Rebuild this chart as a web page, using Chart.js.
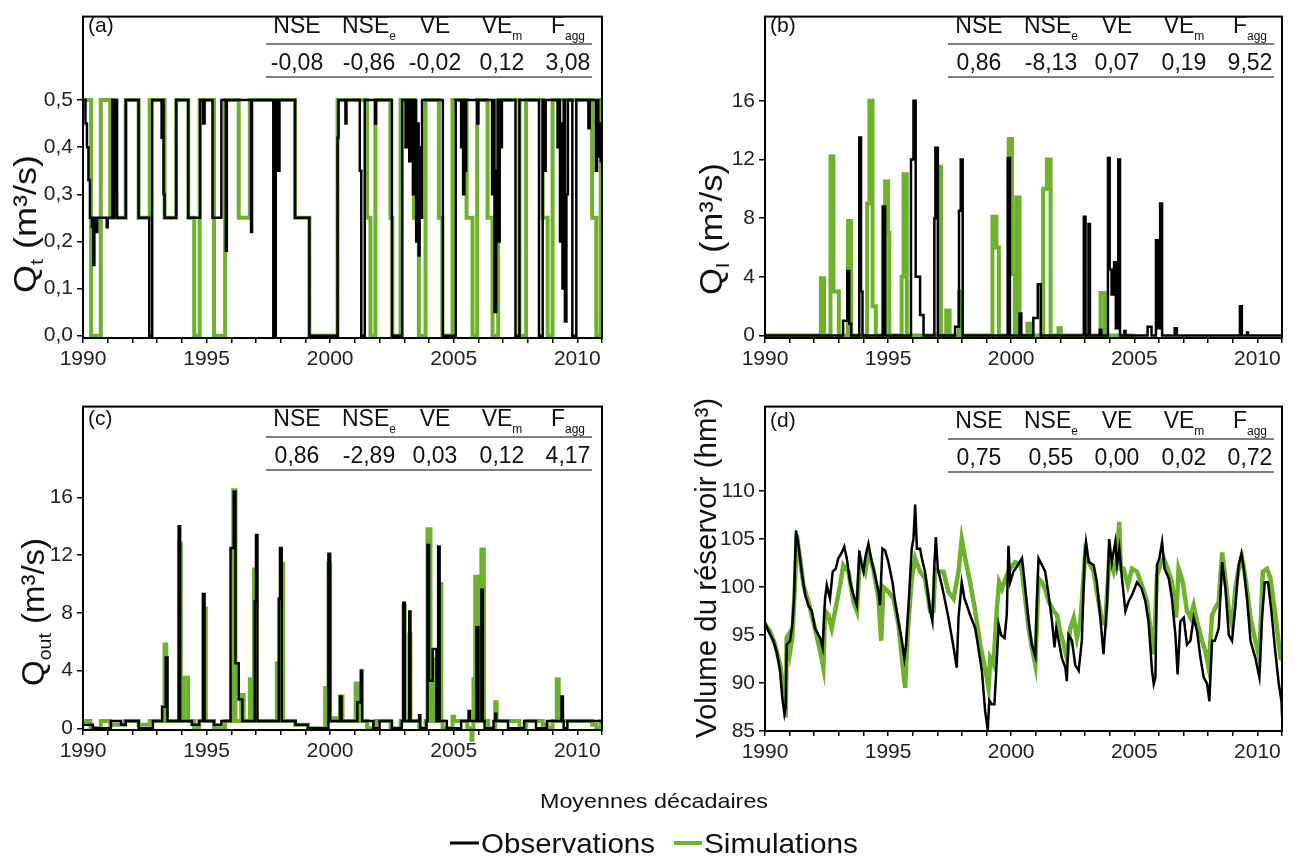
<!DOCTYPE html>
<html>
<head>
<meta charset="utf-8">
<script src="https://cdn.jsdelivr.net/npm/chart.js@4/dist/chart.umd.min.js"></script>
<style>
html,body{margin:0;padding:0;background:#fff;width:1295px;height:861px;overflow:hidden;}
canvas{position:absolute;}
#ov{position:absolute;left:0;top:0;pointer-events:none;font-family:"Liberation Sans",Arial,sans-serif;}
</style>
</head>
<body>
<canvas id="ca" width="640" height="380" style="left:0;top:0"></canvas>
<canvas id="cb" width="655" height="380" style="left:640px;top:0"></canvas>
<canvas id="cc" width="640" height="380" style="left:0;top:390px"></canvas>
<canvas id="cd" width="655" height="380" style="left:640px;top:390px"></canvas>
<svg id="ov" width="1295" height="861" xmlns="http://www.w3.org/2000/svg"></svg>
<script>
// ---------- DATA (years, values) ----------
const YEAR_TICKS = [1990,1991,1992,1993,1994,1995,1996,1997,1998,1999,2000,2001,2002,2003,2004,2005,2006,2007,2008,2009,2010,2011];
const YTICKS_A = [0,0.1,0.2,0.3,0.4,0.5];
const YTICKS_B = [0,4,8,12,16];
const YTICKS_C = [0,4,8,12,16];
const YTICKS_D = [85,90,95,100,105,110];

const STAT_HEADERS = [["NSE",""],["NSE","e"],["VE",""],["VE","m"],["F","agg"]];
const STATS_A = ["-0,08","-0,86","-0,02","0,12","3,08"];
const STATS_B = ["0,86","-8,13","0,07","0,19","9,52"];
const STATS_C = ["0,86","-2,89","0,03","0,12","4,17"];
const STATS_D = ["0,75","0,55","0,00","0,02","0,72"];

// (a) Qt : step changes [year, value from that year on]
const OBS_A = [[1990.00,0.5],[1990.10,0.45],[1990.16,0.4],[1990.22,0.33],[1990.28,0.25],[1990.36,0.23],[1990.42,0.15],[1990.46,0.25],[1990.52,0.22],[1990.58,0.25],[1990.96,0.23],[1991.0,0.25],
[1991.19,0.5],[1991.24,0.25],[1991.27,0.5],[1991.31,0.3],[1991.34,0.5],[1991.38,0.25],
[1991.73,0.5],[1992.25,0.25],[1992.68,0],[1992.8,0.5],
[1993.18,0.42],[1993.22,0.5],[1993.26,0.3],[1993.3,0.25],
[1993.77,0.5],[1994.26,0.25],[1994.74,0.5],[1994.86,0.45],[1994.92,0.5],
[1995.24,0.25],[1995.6,0.5],[1995.78,0.18],[1995.82,0.5],
[1996.8,0.22],[1996.84,0.5],
[1997.7,0],[1997.8,0.5],[1997.9,0.35],[1997.95,0.5],
[1998.58,0.25],[1999.16,0],[2000.3,0.42],[2000.34,0.5],[2000.62,0.45],[2000.66,0.5],
[2001.2,0.35],[2001.26,0],[2001.4,0.5],[2001.82,0.45],[2001.86,0.5],
[2002.5,0],[2002.92,0.5],
[2003.05,0.4],[2003.1,0.5],[2003.2,0.37],[2003.25,0.5],[2003.35,0.3],[2003.4,0.5],[2003.48,0.2],[2003.52,0.45],[2003.58,0.17],[2003.62,0.4],[2003.68,0.25],[2003.72,0.5],
[2004.56,0],[2005.08,0.5],
[2005.3,0.4],[2005.34,0.5],[2005.38,0.3],[2005.43,0.5],[2005.47,0.35],[2005.5,0.5],[2005.95,0.45],[2006.0,0.5],
[2006.55,0.3],[2006.6,0.5],[2006.65,0.05],[2006.72,0.35],[2006.78,0.5],[2006.82,0.2],[2006.86,0.5],[2006.9,0.4],[2006.95,0.5],
[2007.5,0],[2007.66,0.5],
[2008.45,0],[2008.6,0.5],[2008.68,0.35],[2008.72,0.5],
[2009.2,0.4],[2009.25,0.5],[2009.3,0.2],[2009.35,0.45],[2009.4,0.1],[2009.45,0.5],[2009.5,0.03],[2009.56,0.3],[2009.62,0.5],
[2009.8,0],[2009.96,0.5],
[2010.45,0.44],[2010.5,0.5],[2010.75,0.35],[2010.8,0.5],[2010.85,0.38],[2010.9,0.45],[2010.95,0.37],[2011.0,0.45]];
const SIM_A = [[1990.0,0.5],[1990.33,0],[1990.72,0.5],[1991.1,0.25],[1991.19,0.5],[1991.3,0.25],[1991.73,0.5],[1992.25,0.25],[1992.7,0.5],[1993.3,0.25],[1993.77,0.5],[1994.26,0.25],[1994.5,0],[1994.72,0.5],[1995.3,0],[1995.75,0.5],[1996.3,0.25],[1996.75,0.5],[1998.58,0.25],[1999.16,0],[2000.3,0.5],
[2001.49,0.25],[2001.63,0],[2001.83,0.5],[2002.44,0.25],[2002.52,0],[2002.85,0.5],[2003.39,0.25],[2003.59,0],[2003.86,0.5],[2004.4,0.25],[2004.54,0],[2004.95,0.5],[2005.52,0.25],[2005.76,0],[2005.95,0.5],[2006.37,0.25],[2006.57,0],[2006.8,0.5],[2007.66,0],[2007.93,0.5],[2008.6,0.25],[2008.8,0],[2009.0,0.5],[2010.6,0.25],[2010.77,0],[2010.95,0.5],[2011.0,0.5]];

// (b) QI : step changes [year, value from that year on]
const OBS_B = [[1990,0],
[1993.17,1.0],[1993.34,4.4],[1993.42,0.8],[1993.5,0],
[1993.83,13.5],[1993.9,3.0],[1993.96,0],
[1994.78,8.8],[1994.88,0],
[1995.93,12.0],[1996.03,16.0],[1996.12,4.0],[1996.3,1.4],[1996.44,0],
[1996.88,8.0],[1996.92,12.8],[1997.02,0],
[1997.72,0.6],[1997.88,8.5],[1997.95,12.0],[1998.03,0],
[1999.86,12.1],[1999.95,0],
[2000.34,1.5],[2000.41,0],
[2000.9,1.2],[2001.08,3.5],[2001.2,0],
[2002.95,8.1],[2003.02,0],[2003.14,7.6],[2003.2,0],
[2003.6,0.4],[2003.66,0],
[2003.93,12.1],[2004.0,4.5],[2004.08,2.8],[2004.18,5.0],[2004.25,0.5],[2004.35,12.0],[2004.42,0],
[2004.6,0.3],[2004.64,0],
[2005.54,0.6],[2005.7,0],
[2005.88,6.5],[2005.97,0.5],[2006.05,9.0],[2006.13,0],
[2006.64,0.5],[2006.73,0],
[2009.29,2.0],[2009.37,0],
[2009.58,0.2],[2009.62,0],
[2011,0]];
const SIM_B = [[1990,0],
[1992.27,3.9],[1992.4,0],
[1992.66,12.2],[1992.78,3.0],[1993.0,0],
[1993.37,7.8],[1993.5,0],
[1994.15,9.0],[1994.24,16.0],[1994.37,2.0],[1994.5,0],
[1994.88,10.5],[1995.0,7.0],[1995.05,0],
[1995.55,4.0],[1995.63,11.0],[1995.76,0],
[1997.07,11.5],[1997.15,0],
[1997.36,1.7],[1997.5,0],
[1997.88,3.0],[1997.95,0],
[1999.24,8.1],[1999.4,6.0],[1999.5,0],
[1999.9,13.4],[2000.03,4.2],[2000.15,0],[2000.2,9.4],[2000.34,0],
[2000.66,0.8],[2000.8,0],
[2001.3,10.0],[2001.45,12.0],[2001.6,0],
[2001.92,0.5],[2002.02,0],
[2003.63,2.9],[2003.8,0],
[2005.03,0]];

// (c) Qout : step changes [year, value from that year on]
const OBS_C = [[1990,0.25],[1990.4,0],[1991.13,0.5],[1991.54,0.25],[1991.73,0.5],[1992.25,0],[1992.83,0.5],
[1993.2,1.5],[1993.35,4.9],[1993.42,0.5],
[1993.87,14.0],[1993.93,0.5],
[1994.4,0.25],[1994.7,0.5],
[1994.85,9.3],[1994.92,0.5],
[1995.3,0.25],[1995.6,0.5],
[1995.97,12.5],[1996.1,16.4],[1996.17,4.5],[1996.3,2.0],[1996.45,0.5],
[1996.95,8.8],[1997.0,13.4],[1997.06,0.5],
[1997.92,9.0],[1997.97,12.5],[1998.04,0.5],
[1998.6,0.25],[1999.1,0],
[1999.93,12.1],[2000.0,0.5],
[2000.4,2.2],[2000.46,0.5],
[2001.1,1.8],[2001.24,4.0],[2001.3,0.5],
[2001.75,0],[2002.0,0.5],[2002.5,0],[2002.9,0.5],
[2002.96,8.7],[2003.02,0.5],[2003.2,8.1],[2003.25,0.5],
[2003.6,0.9],[2003.65,0],[2003.9,0.5],
[2003.94,12.7],[2004.0,3.3],[2004.15,5.5],[2004.3,0.5],[2004.37,12.6],[2004.43,0.5],
[2004.72,0],[2005.3,0.5],
[2005.6,1.2],[2005.66,0.5],
[2005.92,7.0],[2006.0,0.5],[2006.12,9.6],[2006.18,0.5],
[2006.25,0],[2006.61,0.5],
[2006.68,1.0],[2006.72,0.5],
[2007.2,0],[2007.85,0.5],[2008.33,0],[2008.77,0.5],
[2009.36,2.2],[2009.42,0.5],[2009.45,0],[2009.6,0.5],[2011,0.5]];
const SIM_C = [[1990,0.5],[1990.3,0],[1990.72,0.5],[1991.1,0.25],[1991.7,0.5],[1992.25,0.25],[1992.7,0.5],
[1993.3,5.8],[1993.37,0.5],
[1993.9,12.8],[1993.96,0.5],[1994.08,3.5],[1994.25,0.5],
[1994.5,0],[1994.7,0.5],
[1994.9,8.3],[1994.97,0.5],
[1995.3,0],[1995.75,0.5],
[1996.08,16.5],[1996.17,0.5],[1996.4,2.3],[1996.5,0.5],
[1996.75,3.4],[1996.83,0.5],[1996.92,11.0],[1996.98,0.5],
[1997.84,4.5],[1997.9,0.5],[1998.04,11.4],[1998.1,0.5],
[1998.58,0.25],[1999.1,0],
[1999.8,2.8],[1999.93,11.4],[2000.0,0.5],[2000.1,0.7],[2000.3,0.5],[2000.4,2.2],[2000.5,0.5],
[2001.03,3.1],[2001.17,0.5],
[2001.5,0],[2001.85,0.5],[2002.45,0],[2002.85,0.5],
[2002.97,8.5],[2003.02,0.5],[2003.2,6.5],[2003.25,0.5],
[2003.6,0],[2003.86,0.5],
[2003.94,13.8],[2004.06,0.5],[2004.15,4.8],[2004.28,0.5],[2004.45,10.0],[2004.5,0.5],
[2004.55,0],[2004.95,0.8],[2005.02,0.5],
[2005.55,0],[2005.72,-0.8],[2005.76,0],[2005.8,3.4],[2005.87,10.5],[2005.98,0.5],[2006.12,12.4],[2006.22,0.5],
[2006.4,0],[2006.68,1.8],[2006.74,0.5],
[2007.66,0],[2007.93,0.5],[2008.6,0.25],[2008.8,0],[2009.0,0.5],
[2009.17,3.4],[2009.25,0.5],
[2010.6,0.25],[2010.77,0],[2010.95,0.5],[2011,0.5]];

// (d) reservoir volume [year, hm3]
const OBS_D = [[1990.00,96.3],[1990.14,95.4],[1990.34,94.4],[1990.47,93.3],[1990.61,91.3],[1990.70,88.5],[1990.79,86.8],[1990.84,87.5],[1990.88,94.0],[1991.02,94.4],[1991.11,96.1],[1991.18,98.8],[1991.26,105.9],[1991.36,104.3],[1991.49,101.6],[1991.63,99.2],[1991.76,98.1],[1991.90,97.5],[1992.03,95.7],[1992.24,94.7],[1992.34,93.7],[1992.44,98.8],[1992.51,100.2],[1992.64,98.8],[1992.75,101.6],[1992.87,101.9],[1992.98,103.0],[1993.12,103.6],[1993.22,104.2],[1993.32,103.0],[1993.46,100.5],[1993.59,99.2],[1993.73,98.1],[1993.83,103.8],[1993.90,102.6],[1994.00,101.6],[1994.09,103.3],[1994.20,104.5],[1994.34,102.6],[1994.47,101.2],[1994.61,99.5],[1994.67,98.1],[1994.77,104.0],[1994.88,103.8],[1995.01,102.6],[1995.18,100.5],[1995.28,98.5],[1995.42,96.4],[1995.56,94.4],[1995.66,92.6],[1995.73,94.0],[1995.83,98.1],[1995.96,104.0],[1996.03,105.0],[1996.10,108.6],[1996.17,104.0],[1996.30,104.0],[1996.37,103.0],[1996.50,101.6],[1996.71,97.5],[1996.80,96.4],[1996.88,102.3],[1996.94,105.2],[1997.02,101.9],[1997.18,100.2],[1997.32,98.5],[1997.45,96.8],[1997.66,93.7],[1997.79,91.6],[1997.86,96.8],[1997.93,98.8],[1997.99,100.5],[1998.10,98.8],[1998.20,98.1],[1998.33,97.1],[1998.54,95.7],[1998.81,91.3],[1998.94,87.1],[1999.05,85.1],[1999.11,88.2],[1999.21,87.8],[1999.32,87.8],[1999.42,92.6],[1999.49,96.1],[1999.59,95.0],[1999.73,94.7],[1999.82,97.1],[1999.89,104.3],[1999.96,100.5],[2000.09,101.6],[2000.27,102.3],[2000.44,103.0],[2000.57,99.9],[2000.71,96.4],[2000.84,94.0],[2000.98,92.8],[2001.04,98.1],[2001.11,103.0],[2001.25,102.3],[2001.38,101.6],[2001.52,99.2],[2001.66,96.4],[2001.76,93.7],[2001.83,95.7],[2001.93,94.4],[2002.06,92.6],[2002.20,91.6],[2002.26,90.2],[2002.33,95.0],[2002.47,94.4],[2002.60,91.9],[2002.74,91.3],[2002.87,94.4],[2002.98,103.0],[2003.04,104.7],[2003.15,102.6],[2003.35,102.3],[2003.48,100.5],[2003.62,96.8],[2003.75,93.0],[2003.89,98.1],[2003.98,105.0],[2004.09,102.6],[2004.23,104.7],[2004.30,102.3],[2004.39,104.0],[2004.50,100.9],[2004.64,97.5],[2004.77,98.5],[2004.91,99.2],[2005.11,100.5],[2005.29,99.9],[2005.45,98.5],[2005.58,96.4],[2005.72,91.3],[2005.79,89.9],[2005.86,90.6],[2005.92,102.3],[2006.02,103.0],[2006.13,104.7],[2006.23,101.9],[2006.40,100.9],[2006.53,98.8],[2006.67,95.0],[2006.76,90.9],[2006.87,96.4],[2007.01,96.8],[2007.14,94.0],[2007.28,94.4],[2007.41,96.8],[2007.55,95.4],[2007.69,92.6],[2007.82,90.6],[2007.96,89.9],[2008.05,88.1],[2008.16,94.4],[2008.27,94.4],[2008.43,95.7],[2008.57,102.6],[2008.70,99.9],[2008.84,95.0],[2008.97,94.4],[2009.11,98.1],[2009.24,102.3],[2009.35,103.5],[2009.45,101.9],[2009.58,98.8],[2009.72,94.4],[2009.92,92.6],[2010.08,90.6],[2010.19,96.8],[2010.30,100.5],[2010.43,100.5],[2010.57,97.5],[2010.71,93.7],[2010.87,89.9],[2010.98,88.1],[2011.0,86.6]];
const SIM_D = [[1990.00,96.1],[1990.20,95.4],[1990.41,94.0],[1990.61,91.9],[1990.75,89.5],[1990.84,86.4],[1990.88,94.7],[1990.95,95.0],[1991.02,93.3],[1991.11,94.7],[1991.22,100.5],[1991.29,105.5],[1991.42,103.0],[1991.56,100.2],[1991.76,98.5],[1992.03,95.7],[1992.24,93.3],[1992.37,91.6],[1992.44,97.5],[1992.57,97.1],[1992.71,95.7],[1992.85,97.5],[1993.05,100.2],[1993.18,102.3],[1993.39,101.6],[1993.59,98.5],[1993.73,97.5],[1993.86,103.0],[1994.07,101.6],[1994.20,103.6],[1994.40,101.9],[1994.61,98.8],[1994.72,94.4],[1994.81,100.0],[1995.01,99.5],[1995.22,98.8],[1995.42,96.1],[1995.56,92.6],[1995.69,89.5],[1995.80,95.4],[1995.96,100.9],[1996.10,103.0],[1996.30,101.6],[1996.50,100.9],[1996.71,97.5],[1996.84,97.5],[1996.91,101.9],[1997.05,101.6],[1997.25,101.6],[1997.45,99.5],[1997.66,98.8],[1997.86,101.6],[1997.99,105.0],[1998.16,102.6],[1998.33,100.5],[1998.54,97.5],[1998.74,94.0],[1998.94,91.6],[1999.08,89.5],[1999.15,92.6],[1999.28,91.9],[1999.42,97.8],[1999.51,100.5],[1999.62,99.8],[1999.82,101.2],[1999.96,101.9],[2000.16,102.6],[2000.37,102.4],[2000.44,101.6],[2000.57,98.8],[2000.71,95.7],[2000.84,93.7],[2000.98,91.9],[2001.11,100.9],[2001.25,100.5],[2001.38,99.8],[2001.52,98.5],[2001.72,97.5],[2001.86,97.1],[2001.99,95.4],[2002.13,94.0],[2002.26,92.6],[2002.40,95.7],[2002.54,96.8],[2002.67,94.7],[2002.81,96.4],[2003.01,103.6],[2003.15,102.6],[2003.35,101.6],[2003.48,99.5],[2003.69,96.4],[2003.82,96.1],[2003.98,103.0],[2004.16,101.6],[2004.30,103.0],[2004.39,106.8],[2004.45,101.9],[2004.57,101.9],[2004.74,100.2],[2004.91,101.9],[2005.11,101.6],[2005.31,100.2],[2005.52,98.5],[2005.65,95.7],[2005.79,93.0],[2005.92,101.2],[2006.06,102.3],[2006.19,103.0],[2006.40,101.6],[2006.53,100.5],[2006.70,96.8],[2006.80,101.9],[2006.97,100.5],[2007.14,97.5],[2007.28,96.8],[2007.41,98.1],[2007.55,96.4],[2007.75,94.4],[2007.89,93.3],[2008.02,91.6],[2008.16,97.1],[2008.29,97.8],[2008.43,98.5],[2008.57,103.6],[2008.70,100.9],[2008.84,97.5],[2008.97,96.1],[2009.11,99.9],[2009.24,101.9],[2009.38,103.0],[2009.54,100.5],[2009.72,96.8],[2009.92,94.4],[2010.08,92.6],[2010.22,101.6],[2010.39,101.9],[2010.53,100.9],[2010.73,97.1],[2010.94,92.6],[2011.0,92.5]];

// ---------- STYLE ----------
const BLACK = '#000000';
const GREEN = '#6cb22a';
const TICK_FONT = {family:'"Liberation Sans", Arial, sans-serif', size:21};

const framePlugin = {
  id:'frame',
  afterDraw(ch){
    const a = ch.chartArea, c = ch.ctx;
    c.save(); c.strokeStyle = '#000'; c.lineWidth = 2;
    c.strokeRect(a.left, a.top, a.right - a.left, a.bottom - a.top);
    c.restore();
  }
};

function makePanel(id, p){
  const cv = document.getElementById(id);
  const W = cv.width, H = cv.height;
  return new Chart(cv, {
    type:'line',
    data:{datasets:[
      {label:'Observations', data:p.obs, borderColor:BLACK, borderWidth:p.obsW, pointRadius:0, tension:0, stepped:p.stepped, order:0},
      {label:'Simulations', data:p.sim, borderColor:GREEN, borderWidth:p.simW, pointRadius:0, tension:0, stepped:p.stepped, order:1, clip:p.simClip}
    ]},
    options:{
      responsive:false, animation:false, devicePixelRatio:1,
      layout:{autoPadding:false, padding:{left:0, top:p.area.top, right:W - p.area.right, bottom:0}},
      plugins:{legend:{display:false}, tooltip:{enabled:false}},
      scales:{
        x:{type:'linear', min:1990, max:2011,
          afterFit:(s)=>{ s.height = H - p.area.bottom; },
          afterBuildTicks:(s)=>{ s.ticks = YEAR_TICKS.map(v=>({value:v})); },
          ticks:{callback:(v)=> (v % 5 === 0 && v <= 2010) ? String(v) : '', autoSkip:false, maxRotation:0, minRotation:0, padding:4, color:'#222', font:TICK_FONT},
          grid:{drawOnChartArea:false, drawTicks:true, tickLength:5, color:'#000', lineWidth:1.5},
          border:{display:true, color:'#000', width:2}
        },
        y:{type:'linear', min:p.ymin, max:p.ymax,
          afterFit:(s)=>{ s.width = p.area.left; },
          afterBuildTicks:(s)=>{ s.ticks = p.yticks.map(v=>({value:v})); },
          ticks:{callback:p.yfmt, autoSkip:false, padding:4, color:'#222', font:TICK_FONT},
          grid:{drawOnChartArea:false, drawTicks:true, tickLength:6, color:'#000', lineWidth:1.5},
          border:{display:true, color:'#000', width:2}
        }
      }
    },
    plugins:[framePlugin]
  });
}

const fmtComma = (v)=> Number(v).toFixed(1).replace('.', ',');
const fmtInt = (v)=> String(v);

makePanel('ca', {obs:OBS_A, sim:SIM_A, stepped:'before', obsW:2.5, simW:4, ymin:-0.005, ymax:0.677, yticks:YTICKS_A, yfmt:fmtComma, area:{left:83, top:8, right:602, bottom:338}});
makePanel('cb', {obs:OBS_B, sim:SIM_B, stepped:'before', obsW:2.5, simW:4, ymin:-0.17, ymax:21.74, yticks:YTICKS_B, yfmt:fmtInt, area:{left:125, top:8, right:642, bottom:338}});
makePanel('cc', {obs:OBS_C, sim:SIM_C, stepped:'before', obsW:2.5, simW:4, ymin:-0.12, ymax:22.3, yticks:YTICKS_C, yfmt:fmtInt, simClip:{left:0, top:0, right:0, bottom:12}, area:{left:83, top:11, right:602, bottom:340}});
makePanel('cd', {obs:OBS_D, sim:SIM_D, stepped:false, obsW:2.5, simW:4.5, ymin:85, ymax:118.8, yticks:YTICKS_D, yfmt:fmtInt, area:{left:125, top:13, right:642, bottom:341}});

// ---------- TEXT OVERLAY ----------
const NS = 'http://www.w3.org/2000/svg';
const svg = document.getElementById('ov');
function el(tag, attrs, parent){ const e = document.createElementNS(NS, tag); for (const k in attrs) e.setAttribute(k, attrs[k]); (parent || svg).appendChild(e); return e; }
function txt(parent, s){ parent.appendChild(document.createTextNode(s)); }
const COLS = [214, 286, 352, 419, 485];

function statTable(FL, FT, label, stats){
  const l = el('text', {x:FL+5, y:FT+24, 'font-size':21, fill:'#111'}); txt(l, label);
  STAT_HEADERS.forEach((h, i)=>{
    const t = el('text', {x:FL+COLS[i], y:FT+25, 'text-anchor':'middle', 'font-size':23, fill:'#111'});
    txt(t, h[0]);
    if (h[1]) { const s = el('tspan', {'font-size':12, dy:7}, t); txt(s, h[1]); }
  });
  el('line', {x1:FL+183, x2:FL+509, y1:FT+36, y2:FT+36, stroke:'#555', 'stroke-width':1.5});
  stats.forEach((v, i)=>{ const t = el('text', {x:FL+COLS[i], y:FT+62, 'text-anchor':'middle', 'font-size':23, fill:'#111'}); txt(t, v); });
  el('line', {x1:FL+183, x2:FL+509, y1:FT+69, y2:FT+69, stroke:'#555', 'stroke-width':1.5});
}
statTable(83, 8, '(a)', STATS_A);
statTable(765, 8, '(b)', STATS_B);
statTable(83, 401, '(c)', STATS_C);
statTable(765, 403, '(d)', STATS_D);

function yTitle(x, y, main, sub, rest, size, len){
  const t = el('text', {transform:`translate(${x},${y}) rotate(-90)`, 'text-anchor':'middle', 'font-size':size, fill:'#111', textLength:len, lengthAdjust:'spacingAndGlyphs'});
  txt(t, main);
  if (sub) { const s = el('tspan', {'font-size':Math.round(size*0.6), dy:7}, t); txt(s, sub); const r = el('tspan', {dy:-7}, t); txt(r, rest); }
  else txt(t, rest);
}
yTitle(36, 224, 'Q', 't', ' (m\u00B3/s)', 32, 138);
yTitle(722, 229, 'Q', 'I', ' (m\u00B3/s)', 32, 132);
yTitle(44, 612, 'Q', 'out', ' (m\u00B3/s)', 32, 148);
yTitle(716, 568, '', '', 'Volume du r\u00E9servoir (hm\u00B3)', 30, 340);

const xt = el('text', {x:654, y:808, 'text-anchor':'middle', 'font-size':21, fill:'#111', textLength:228, lengthAdjust:'spacingAndGlyphs'});
txt(xt, 'Moyennes d\u00E9cadaires');

el('line', {x1:450, x2:479, y1:843, y2:843, stroke:BLACK, 'stroke-width':3});
const lo = el('text', {x:481, y:853, 'font-size':28, fill:'#111', textLength:174, lengthAdjust:'spacingAndGlyphs'}); txt(lo, 'Observations');
el('line', {x1:674, x2:702, y1:843, y2:843, stroke:GREEN, 'stroke-width':4});
const ls = el('text', {x:704, y:853, 'font-size':28, fill:'#111', textLength:154, lengthAdjust:'spacingAndGlyphs'}); txt(ls, 'Simulations');
</script>
</body>
</html>
